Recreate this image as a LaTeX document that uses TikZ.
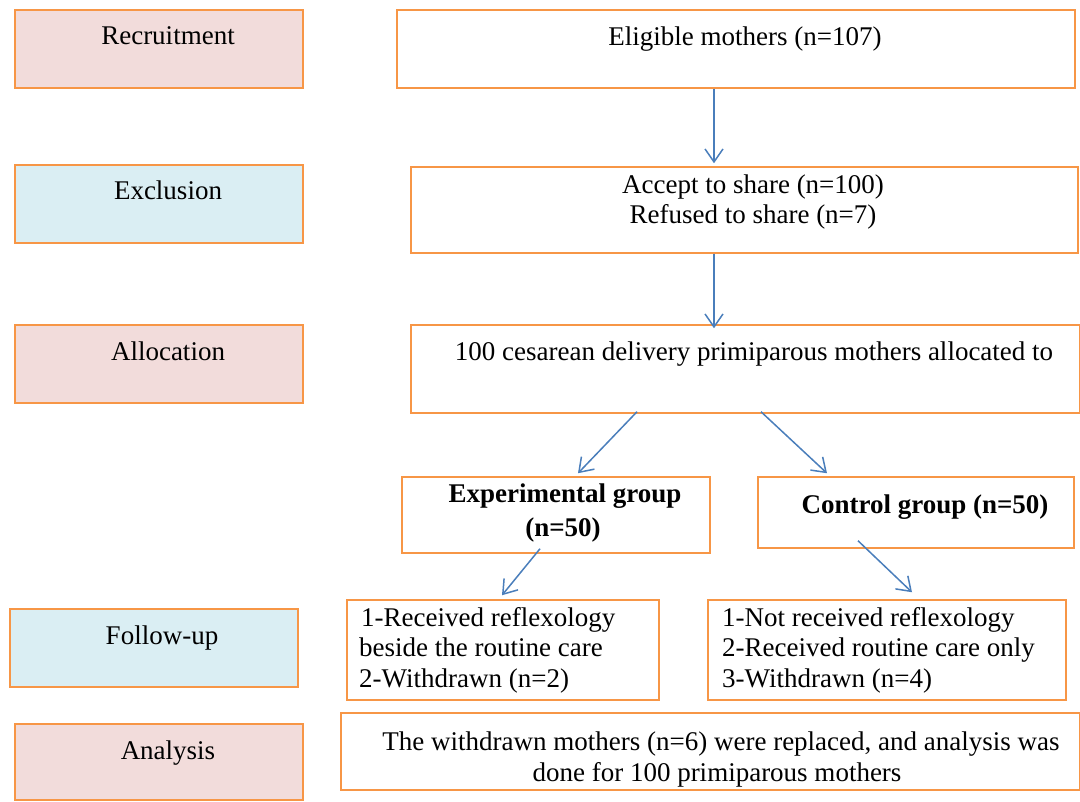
\documentclass[tikz,border=0pt]{standalone}
\usepackage{fontspec}
\setmainfont{Liberation Serif}
\usetikzlibrary{arrows.meta}
\definecolor{boxorange}{HTML}{F79646}
\definecolor{pinkfill}{HTML}{F2DCDB}
\definecolor{bluefill}{HTML}{DAEEF3}
\definecolor{arrowblue}{HTML}{4A7EBB}
\begin{document}
\begin{tikzpicture}[x=1pt,y=-1pt,
  box/.style={draw=boxorange, line width=1.5pt, inner sep=0pt, fill=white},
  pinkbox/.style={box, fill=pinkfill, minimum width=288pt, minimum height=78pt},
  bluebox/.style={box, fill=bluefill, minimum width=288pt, minimum height=78pt},
  txt/.style={inner sep=0pt, font=\fontsize{27}{30.5}\selectfont, anchor=base},
  ltxt/.style={txt, anchor=base west},
  arr/.style={draw=arrowblue, line width=1.5pt, -{Straight Barb[length=13pt, width=18pt, line width=1.5pt]}}
]
\useasboundingbox (0,0) rectangle (1080,802);

% left label boxes
\node[pinkbox] (rec) at (159,49) {};
\node[bluebox] (exc) at (159,204) {};
\node[pinkbox] (alo) at (159,364) {};
\node[bluebox] (fol) at (154,648) {};
\node[pinkbox, minimum height=76pt] (ana) at (159,762) {};

\node[txt] (trec) at (168,45) {Recruitment};
\node[txt] (texc) at (168,200) {Exclusion};
\node[txt] (talo) at (168,361) {Allocation};
\node[txt] (tfol) at (162,644) {Follow-up};
\node[txt] (tana) at (168,759) {Analysis};

% right flow boxes
\node[box, minimum width=678pt, minimum height=78pt] (elig) at (736,49) {};
\node[box, minimum width=667pt, minimum height=86pt] (acc) at (744.5,210) {};
\node[box, minimum width=669pt, minimum height=88pt] (all) at (745.5,369) {};
\node[box, minimum width=308pt, minimum height=76pt] (exp) at (556,515) {};
\node[box, minimum width=316pt, minimum height=71pt] (ctl) at (916,512.5) {};
\node[box, minimum width=312pt, minimum height=100pt] (fl) at (503,650) {};
\node[box, minimum width=358pt, minimum height=100pt] (fr) at (887,650) {};
\node[box, minimum width=739pt, minimum height=77pt] (an) at (710.5,751.5) {};

\node[txt] (telig) at (745,46) {Eligible mothers (n=107)};
\node[txt] (tacc1) at (753,194) {Accept to share (n=100)};
\node[txt] (tacc2) at (753,224) {Refused to share (n=7)};
\node[txt] (tall) at (754,361) {100 cesarean delivery primiparous mothers allocated to};
\node[txt] (texp1) at (565,503) {\textbf{Experimental group}};
\node[txt] (texp2) at (563,536) {\textbf{(n=50)}};
\node[txt] (tctl) at (925,513) {\textbf{Control group (n=50)}};
\node[ltxt] (tfl1) at (361,626) {1-Received reflexology};
\node[ltxt] (tfl2) at (359,656) {beside the routine care};
\node[ltxt] (tfl3) at (359,687) {2-Withdrawn (n=2)};
\node[ltxt] (tfr1) at (722,626) {1-Not received reflexology};
\node[ltxt] (tfr2) at (722,656) {2-Received routine care only};
\node[ltxt] (tfr3) at (722,687) {3-Withdrawn (n=4)};
\node[txt] (tan1) at (721,750) {The withdrawn mothers (n=6) were replaced, and analysis was};
\node[txt] (tan2) at (717,781) {done for 100 primiparous mothers};

% connectors
\draw[arr] ([xshift=-22pt]elig.south) -- ([shift={(-30.5,-3)}]acc.north);
\draw[arr] ([xshift=-30.5pt]acc.south) -- ([shift={(-31.5,4)}]all.north);
\draw[arr] ([shift={(-108.5,-2)}]all.south) -- ([shift={(22,-3)}]exp.north);
\draw[arr] ([shift={(15.5,-2)}]all.south) -- ([shift={(-89,-3)}]ctl.north);
\draw[arr] ([shift={(-16,-5)}]exp.south) -- ([shift={(-1,-4)}]fl.north);
\draw[arr] ([shift={(-58,-8)}]ctl.south) -- ([shift={(25,-7)}]fr.north);
\end{tikzpicture}
\end{document}
